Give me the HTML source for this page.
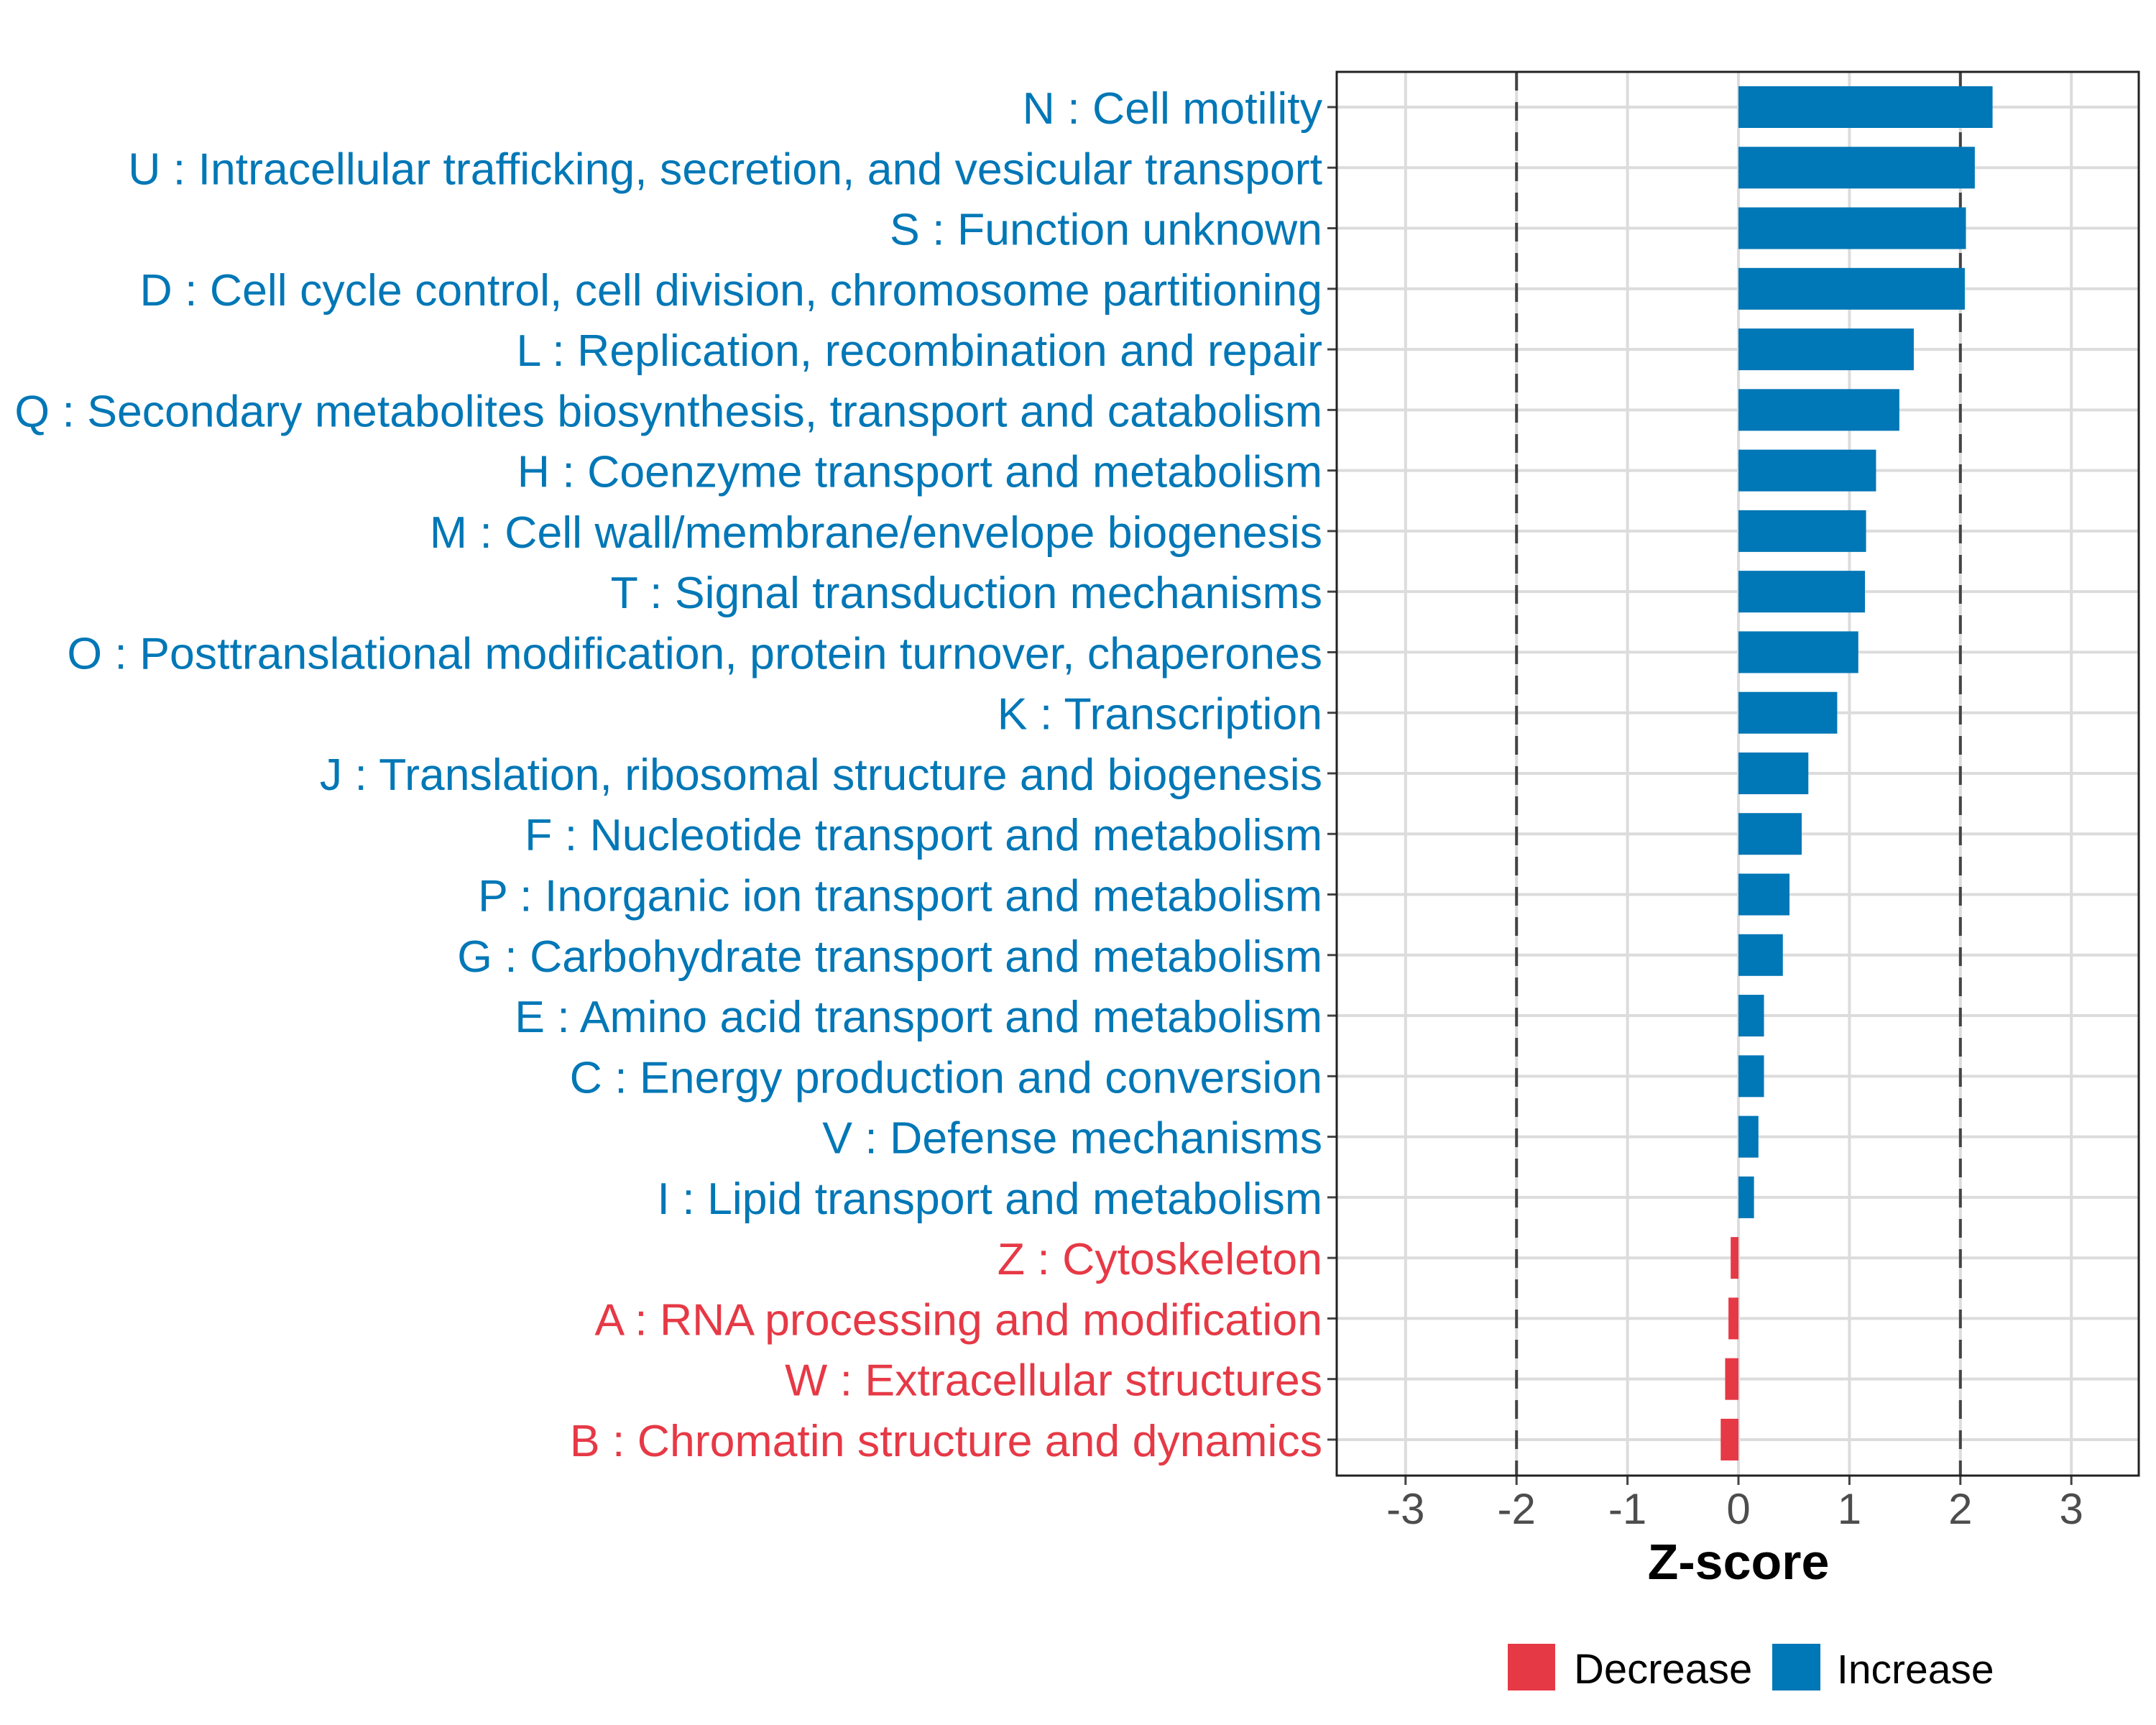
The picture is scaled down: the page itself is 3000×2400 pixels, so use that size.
<!DOCTYPE html>
<html><head><meta charset="utf-8"><style>
html,body{margin:0;padding:0;background:#fff;}
svg{display:block;font-family:"Liberation Sans",Arial,sans-serif;}
</style></head><body>
<svg id="chart" width="3000" height="2400" viewBox="0 0 3000 2400">
<g id="grid"></g>
<g id="bars"></g>
<g id="ylabels"></g>
<g id="xaxis"></g>
<rect x="1860" y="100" width="1116" height="1953" fill="none" stroke="#222" stroke-width="3"/>
<text x="2419" y="2197" text-anchor="middle" font-size="70" font-weight="bold" fill="#000">Z-score</text>
<g>
<rect x="2098" y="2287" width="66" height="65" fill="#E63946"/>
<text x="2190" y="2342" font-size="58" fill="#000">Decrease</text>
<rect x="2466" y="2287" width="67" height="65" fill="#0077B6"/>
<text x="2556" y="2342" font-size="57" fill="#000">Increase</text>
</g>
</svg>
<script>
const categories = ["N : Cell motility","U : Intracellular trafficking, secretion, and vesicular transport","S : Function unknown","D : Cell cycle control, cell division, chromosome partitioning","L : Replication, recombination and repair","Q : Secondary metabolites biosynthesis, transport and catabolism","H : Coenzyme transport and metabolism","M : Cell wall/membrane/envelope biogenesis","T : Signal transduction mechanisms","O : Posttranslational modification, protein turnover, chaperones","K : Transcription","J : Translation, ribosomal structure and biogenesis","F : Nucleotide transport and metabolism","P : Inorganic ion transport and metabolism","G : Carbohydrate transport and metabolism","E : Amino acid transport and metabolism","C : Energy production and conversion","V : Defense mechanisms","I : Lipid transport and metabolism","Z : Cytoskeleton","A : RNA processing and modification","W : Extracellular structures","B : Chromatin structure and dynamics"];
const zscores = [2.29,2.13,2.05,2.04,1.58,1.45,1.24,1.15,1.14,1.08,0.89,0.63,0.57,0.46,0.40,0.23,0.23,0.18,0.14,-0.07,-0.09,-0.12,-0.16];
const xTicks = [-3,-2,-1,0,1,2,3];
const thresholds = [-2,2];
const NS="http://www.w3.org/2000/svg";
const xs = v => 2419 + v*154.4;
const ys = i => 149 + i*84.27;
function mk(tag, attrs, parent){const e=document.createElementNS(NS,tag);for(const k in attrs)e.setAttribute(k,attrs[k]);parent.appendChild(e);return e;}
const grid=document.getElementById('grid'),bars=document.getElementById('bars'),yl=document.getElementById('ylabels'),xa=document.getElementById('xaxis');
xTicks.forEach(t=>{
  const g=mk('line',{x1:xs(t),x2:xs(t),y1:100,y2:2053,stroke:'#dcdcdc','stroke-width':4},grid);
  
  
  const tk=mk('line',{x1:xs(t),x2:xs(t),y1:2053,y2:2066,stroke:'#444','stroke-width':3},xa);
  
  
  const lb=mk('text',{x:xs(t),y:2120,'text-anchor':'middle','font-size':60,fill:'#4d4d4d'},xa);
  lb.textContent=String(t);
  
  
});
categories.forEach((c,i)=>{
  const g=mk('line',{x1:1860,x2:2976,y1:ys(i),y2:ys(i),stroke:'#dcdcdc','stroke-width':4},grid);
  
  
});
thresholds.forEach(t=>{
  const d=mk('line',{x1:xs(t),x2:xs(t),y1:100,y2:2053,stroke:'#444','stroke-width':4,'stroke-dasharray':'26,16'},grid);
  
  
});
categories.forEach((c,i)=>{
  const v=zscores[i];
  const col=v>=0?'#0077B6':'#E63946';
  const x0=Math.min(xs(0),xs(v)),w=Math.abs(xs(v)-xs(0));
  const b=mk('rect',{x:x0,y:ys(i)-29,width:w,height:58,fill:col},bars);
  
  
  const tk=mk('line',{x1:1847,x2:1860,y1:ys(i),y2:ys(i),stroke:'#444','stroke-width':3},yl);
  
  
  const lb=mk('text',{x:1840,y:ys(i)+23,'text-anchor':'end','font-size':62.6,fill:col},yl);
  lb.textContent=c;
  
  
});
</script>
</body></html>
